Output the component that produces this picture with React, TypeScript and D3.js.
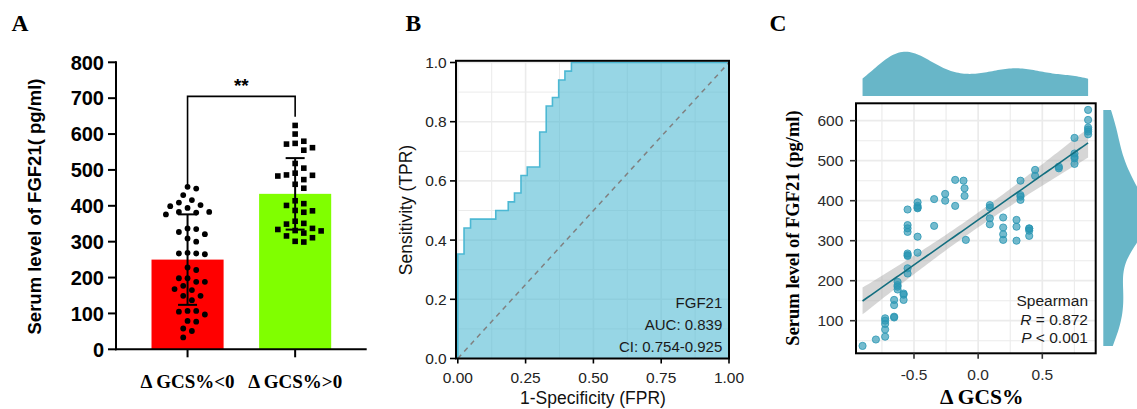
import React from 'react';
import * as d3 from 'd3';

const SANS = "'Liberation Sans', Arial, Helvetica, sans-serif";
const SERIF = "'Liberation Serif', 'Times New Roman', Times, serif";

// ---------------- Panel A data ----------------
const groupLabels = ['Δ GCS%<0', 'Δ GCS%>0'];
const fgf21Neg = [453, 448, 430, 409, 416, 402, 394, 399, 383, 376, 381, 383, 335, 337, 321, 327, 300, 309, 269, 265, 267, 267, 228, 221, 198, 198, 188, 188, 177, 165, 168, 149, 149, 137, 107, 97, 105, 107, 77, 79, 58, 51, 33];
const fgf21Pos = [624, 600, 580, 572, 555, 562, 574, 518, 505, 491, 485, 483, 486, 460, 473, 449, 414, 401, 406, 386, 382, 387, 357, 349, 351, 334, 330, 324, 331, 337, 311, 299, 301, 316];
const aTickValues = [0, 100, 200, 300, 400, 500, 600, 700, 800];
const sigText = '**';
const sigBracketTop = 705;
const sigBracketLegs = [458, 648];
const barColors = ['#FF0000', '#80FF00'];

// ---------------- Panel B data ----------------
const rocFPR = [0, 0, 0.023, 0.047, 0.14, 0.186, 0.209, 0.233, 0.256, 0.302, 0.326, 0.349, 0.372, 0.395, 0.419, 1.0];
const rocTPR = [0, 0.353, 0.441, 0.471, 0.5, 0.529, 0.559, 0.618, 0.647, 0.765, 0.853, 0.882, 0.941, 0.971, 1.0, 1.0];
const rocXTicks = [0, 0.25, 0.5, 0.75, 1];
const rocYTicks = [0, 0.2, 0.4, 0.6, 0.8, 1];
const rocLabels = ['FGF21', 'AUC: 0.839', 'CI: 0.754-0.925'];

// ---------------- Panel C data ----------------
const gcsX = [
  -0.901, -0.797,
  -0.725, -0.725, -0.725, -0.725, -0.725,
  -0.655, -0.655, -0.655, -0.655,
  -0.581, -0.581, -0.581,
  -0.628, -0.628, -0.628, -0.628,
  -0.55, -0.55, -0.55, -0.55, -0.55, -0.55, -0.55, -0.55, -0.55,
  -0.472, -0.472, -0.472, -0.472, -0.472, -0.472,
  -0.343, -0.343, -0.257, -0.257, -0.179, -0.179, -0.114, -0.106, -0.106, -0.096,
  0.091, 0.091, 0.091, 0.091,
  0.195, 0.195, 0.195, 0.195,
  0.299, 0.299, 0.299,
  0.33, 0.33, 0.33, 0.33,
  0.398, 0.398, 0.398, 0.398,
  0.444, 0.444, 0.629, 0.629,
  0.751, 0.751, 0.751, 0.751, 0.751,
  0.857, 0.857, 0.857, 0.857, 0.857, 0.857,
];
const fgfY = [
  37, 53,
  60, 78, 92, 100, 106,
  108, 110, 139, 152,
  152, 165, 168,
  178, 185, 189, 197,
  218, 231, 262, 264, 268, 322, 331, 339, 378,
  270, 310, 381, 383, 387, 396,
  337, 404, 400, 417, 387, 452, 450, 431, 412, 302,
  389, 383, 356, 341,
  358, 333, 316, 302,
  352, 335, 300,
  450, 414, 410, 402,
  331, 330, 325, 312,
  477, 462, 485, 481,
  557, 518, 510, 506, 492,
  627, 602, 583, 578, 573, 566,
];
const cXTicks = [-0.5, 0, 0.5];
const cXMinor = [-0.75, -0.25, 0.25, 0.75];
const cYTicks = [100, 200, 300, 400, 500, 600];
const cYMinor = [50, 150, 250, 350, 450, 550];
const statLines = ['Spearman', '0.872', '0.001'];
const tCrit = 1.992;

// ---------------- helpers ----------------
function swarm(values: number[], cx: number, y: (v: number) => number, step: number, minD: number) {
  const order = values.map((v, i) => i).sort((a, b) => values[b] - values[a]);
  const placed: { x: number; y: number; v: number }[] = [];
  const cands: number[] = [0];
  for (let k = 1; k < 12; k++) { cands.push(k, -k); }
  order.forEach((i) => {
    const py = y(values[i]);
    for (const k of cands) {
      const px = cx + k * step;
      const ok = placed.every((p) => Math.hypot(p.x - px, p.y - py) >= minD);
      if (ok) { placed.push({ x: px, y: py, v: values[i] }); break; }
    }
  });
  return placed;
}

function kde(data: number[], lo: number, hi: number, n: number) {
  const sd = d3.deviation(data) as number;
  const sorted = [...data].sort((a, b) => a - b);
  const iqr = (d3.quantileSorted(sorted, 0.75) as number) - (d3.quantileSorted(sorted, 0.25) as number);
  const bw = 0.9 * Math.min(sd, iqr / 1.34) * Math.pow(data.length, -0.2);
  const pts: [number, number][] = [];
  for (let i = 0; i <= n; i++) {
    const x = lo + ((hi - lo) * i) / n;
    let s = 0;
    for (const d of data) { const u = (x - d) / bw; s += Math.exp(-0.5 * u * u); }
    pts.push([x, s / (data.length * bw * Math.sqrt(2 * Math.PI))]);
  }
  return pts;
}

// ---------------- Panel A ----------------
function PanelA() {
  const y = d3.scaleLinear().domain([0, 800]).range([349.3, 62.3]);
  const x = d3.scaleBand<string>().domain(groupLabels).range([116, 366.7]).paddingInner(0.33).paddingOuter(0.33);
  const groups = [fgf21Neg, fgf21Pos];
  const bw = x.bandwidth();
  return (
    <g>
      <text x={11.5} y={30.5} fontFamily={SERIF} fontWeight="bold" fontSize={23.5}>A</text>
      {groups.map((vals, gi) => {
        const g = groupLabels[gi];
        const cx = (x(g) as number) + bw / 2;
        const m = d3.mean(vals) as number;
        const sd = d3.deviation(vals) as number;
        const pts = swarm(vals, cx, y, 4.33, 8.4);
        return (
          <g key={g}>
            <rect x={x(g)} y={y(m)} width={bw} height={y(0) - y(m)} fill={barColors[gi]} />
            <line x1={cx} x2={cx} y1={y(m - sd)} y2={y(m + sd)} stroke="#000" strokeWidth={2} />
            <line x1={cx - 9.5} x2={cx + 9.5} y1={y(m - sd)} y2={y(m - sd)} stroke="#000" strokeWidth={2} />
            <line x1={cx - 9.5} x2={cx + 9.5} y1={y(m + sd)} y2={y(m + sd)} stroke="#000" strokeWidth={2} />
            {pts.map((p, i) =>
              gi === 0 ? (
                <circle key={i} cx={p.x} cy={p.y} r={2.9} fill="#000" />
              ) : (
                <rect key={i} x={p.x - 2.8} y={p.y - 2.8} width={5.6} height={5.6} fill="#000" />
              )
            )}
            <line x1={cx} x2={cx} y1={y(0)} y2={y(0) + 8} stroke="#000" strokeWidth={2} />
            <text x={cx} y={388.3} textAnchor="middle" fontFamily={SERIF} fontWeight="bold" fontSize={19}>{g}</text>
          </g>
        );
      })}
      {/* significance bracket */}
      {(() => {
        const c0 = (x(groupLabels[0]) as number) + bw / 2;
        const c1 = (x(groupLabels[1]) as number) + bw / 2;
        return (
          <g>
            <path d={`M${c0},${y(sigBracketLegs[0])}V${y(sigBracketTop)}H${c1}V${y(sigBracketLegs[1])}`} fill="none" stroke="#000" strokeWidth={1.6} />
            <text x={(c0 + c1) / 2} y={y(sigBracketTop) - 4} textAnchor="middle" fontFamily={SANS} fontWeight="bold" fontSize={19}>{sigText}</text>
          </g>
        );
      })()}
      {/* axes */}
      <line x1={116} x2={116} y1={y(800) - 1} y2={y(0) + 1} stroke="#000" strokeWidth={2} />
      <line x1={115} x2={366.7} y1={y(0)} y2={y(0)} stroke="#000" strokeWidth={2} />
      {aTickValues.map((t) => (
        <g key={t}>
          <line x1={108} x2={116} y1={y(t)} y2={y(t)} stroke="#000" strokeWidth={2} />
          <text x={104} y={y(t)} dy="0.36em" textAnchor="end" fontFamily={SANS} fontWeight="bold" fontSize={20}>{t}</text>
        </g>
      ))}
      <text transform={`translate(40.5,${206.5}) rotate(-90)`} textAnchor="middle" fontFamily={SANS} fontWeight="bold" fontSize={18.5}>Serum level of FGF21( pg/ml)</text>
    </g>
  );
}

// ---------------- Panel B ----------------
function PanelB() {
  const x = d3.scaleLinear().domain([0, 1]).range([457.8, 729]);
  const y = d3.scaleLinear().domain([0, 1]).range([358.5, 62.5]);
  const pts: [number, number][] = rocFPR.map((f, i) => [f, rocTPR[i]]);
  const line = d3.line<[number, number]>().x((d) => x(d[0])).y((d) => y(d[1])).curve(d3.curveStepAfter);
  const area = d3.area<[number, number]>().x((d) => x(d[0])).y0(y(0)).y1((d) => y(d[1])).curve(d3.curveStepAfter);
  const left = 456, right = 729, top = 60.8, bottom = 358.5;
  const minorX = rocXTicks.slice(0, -1).map((t, i) => (t + rocXTicks[i + 1]) / 2);
  const minorY = rocYTicks.slice(0, -1).map((t, i) => (t + rocYTicks[i + 1]) / 2);
  return (
    <g>
      <text x={405.5} y={30.5} fontFamily={SERIF} fontWeight="bold" fontSize={23.5}>B</text>
      <rect x={left} y={top} width={right - left} height={bottom - top} fill="#fff" />
      {minorX.map((t) => <line key={'mx' + t} x1={x(t)} x2={x(t)} y1={top} y2={bottom} stroke="#EBEBEB" strokeWidth={1} />)}
      {minorY.map((t) => <line key={'my' + t} x1={left} x2={right} y1={y(t)} y2={y(t)} stroke="#EBEBEB" strokeWidth={1} />)}
      {rocXTicks.map((t) => <line key={'gx' + t} x1={x(t)} x2={x(t)} y1={top} y2={bottom} stroke="#EBEBEB" strokeWidth={1.6} />)}
      {rocYTicks.map((t) => <line key={'gy' + t} x1={left} x2={right} y1={y(t)} y2={y(t)} stroke="#EBEBEB" strokeWidth={1.6} />)}
      <path d={area(pts) as string} fill="#4CB8D3" fillOpacity={0.58} />
      <path d={line(pts) as string} fill="none" stroke="#4CB8D3" strokeWidth={1.6} />
      <line x1={x(0)} y1={y(0)} x2={x(1)} y2={y(1)} stroke="#808080" strokeWidth={1.5} strokeDasharray="5,4.5" />
      <rect x={left} y={top} width={right - left} height={bottom - top} fill="none" stroke="#000" strokeWidth={2} />
      {rocLabels.map((s, i) => (
        <text key={s} x={722.3} y={308 + i * 21.8} textAnchor="end" fontFamily={SANS} fontSize={15} fill="#1a1a1a">{s}</text>
      ))}
      {rocXTicks.map((t) => (
        <g key={'tx' + t}>
          <line x1={x(t)} x2={x(t)} y1={bottom} y2={bottom + 5} stroke="#000" strokeWidth={1.6} />
          <text x={x(t)} y={383.3} textAnchor="middle" fontFamily={SANS} fontSize={15.5} fill="#222">{d3.format('.2f')(t)}</text>
        </g>
      ))}
      {rocYTicks.map((t) => (
        <g key={'ty' + t}>
          <line x1={left - 6} x2={left} y1={y(t)} y2={y(t)} stroke="#000" strokeWidth={1.6} />
          <text x={446.7} y={y(t)} dy="0.36em" textAnchor="end" fontFamily={SANS} fontSize={15.5} fill="#222">{d3.format('.1f')(t)}</text>
        </g>
      ))}
      <text x={593} y={404} textAnchor="middle" fontFamily={SANS} fontSize={17.5} fill="#111">1-Specificity (FPR)</text>
      <text transform="translate(412,210) rotate(-90)" textAnchor="middle" fontFamily={SANS} fontSize={17.5} fill="#111">Sensitivity (TPR)</text>
    </g>
  );
}

// ---------------- Panel C ----------------
function PanelC() {
  const x = d3.scaleLinear().domain([-0.5, 0.5]).range([914, 1042.3]);
  const y = d3.scaleLinear().domain([100, 600]).range([320.7, 120.7]);
  const left = 856, right = 1095.7, top = 103.3, bottom = 353.3;
  const n = gcsX.length;
  const mx = d3.mean(gcsX) as number;
  const my = d3.mean(fgfY) as number;
  let sxx = 0, sxy = 0;
  gcsX.forEach((v, i) => { sxx += (v - mx) ** 2; sxy += (v - mx) * (fgfY[i] - my); });
  const b = sxy / sxx;
  const a = my - b * mx;
  let sse = 0;
  gcsX.forEach((v, i) => { sse += (fgfY[i] - (a + b * v)) ** 2; });
  const s = Math.sqrt(sse / (n - 2));
  const [xmin, xmax] = d3.extent(gcsX) as [number, number];
  const [ymin, ymax] = d3.extent(fgfY) as [number, number];
  const fitPts = d3.range(0, 81).map((i) => {
    const xv = xmin + ((xmax - xmin) * i) / 80;
    const fit = a + b * xv;
    const se = s * Math.sqrt(1 / n + (xv - mx) ** 2 / sxx);
    return { x: xv, fit, lo: fit - tCrit * se, hi: fit + tCrit * se };
  });
  const band = d3.area<any>().x((d) => x(d.x)).y0((d) => y(d.lo)).y1((d) => y(d.hi));
  const fitLine = d3.line<any>().x((d) => x(d.x)).y((d) => y(d.fit));

  const topD = kde(gcsX, xmin, xmax, 120);
  const rightD = kde(fgfY, ymin, ymax, 120);
  const topScale = d3.scaleLinear().domain([0, d3.max(topD, (d) => d[1]) as number]).range([96, 51.7]);
  const rightScale = d3.scaleLinear().domain([0, d3.max(rightD, (d) => d[1]) as number]).range([1103.3, 1147]);
  const topArea = d3.area<[number, number]>().x((d) => x(d[0])).y0(96).y1((d) => topScale(d[1]));
  const rightArea = d3.area<[number, number]>().y((d) => y(d[0])).x0(1103.3).x1((d) => rightScale(d[1]));

  return (
    <g>
      <text x={769.5} y={30.5} fontFamily={SERIF} fontWeight="bold" fontSize={23.5}>C</text>
      <path d={topArea(topD) as string} fill="#68B6C8" />
      <path d={rightArea(rightD) as string} fill="#68B6C8" />
      <rect x={left} y={top} width={right - left} height={bottom - top} fill="#fff" />
      {cXMinor.map((t) => <line key={'mx' + t} x1={x(t)} x2={x(t)} y1={top} y2={bottom} stroke="#EBEBEB" strokeWidth={1.1} />)}
      {cYMinor.map((t) => <line key={'my' + t} x1={left} x2={right} y1={y(t)} y2={y(t)} stroke="#EBEBEB" strokeWidth={1.1} />)}
      {cXTicks.map((t) => <line key={'gx' + t} x1={x(t)} x2={x(t)} y1={top} y2={bottom} stroke="#EBEBEB" strokeWidth={1.7} />)}
      {cYTicks.map((t) => <line key={'gy' + t} x1={left} x2={right} y1={y(t)} y2={y(t)} stroke="#EBEBEB" strokeWidth={1.7} />)}
      <path d={band(fitPts) as string} fill="#999999" fillOpacity={0.4} />
      {gcsX.map((v, i) => (
        <circle key={i} cx={x(v)} cy={y(fgfY[i])} r={3.6} fill="#2A96B3" fillOpacity={0.65} stroke="#2A96B3" strokeOpacity={0.8} strokeWidth={1} />
      ))}
      <path d={fitLine(fitPts) as string} fill="none" stroke="#136E7F" strokeWidth={1.6} />
      <rect x={left} y={top} width={right - left} height={bottom - top} fill="none" stroke="#000" strokeWidth={2} />
      <text x={1088} y={306} textAnchor="end" fontFamily={SANS} fontSize={15.5} fill="#1a1a1a">{statLines[0]}</text>
      <text x={1088} y={324.5} textAnchor="end" fontFamily={SANS} fontSize={15.5} fill="#1a1a1a"><tspan fontStyle="italic">R</tspan> = {statLines[1]}</text>
      <text x={1088} y={343} textAnchor="end" fontFamily={SANS} fontSize={15.5} fill="#1a1a1a"><tspan fontStyle="italic">P</tspan> &lt; {statLines[2]}</text>
      {cXTicks.map((t) => (
        <g key={'tx' + t}>
          <line x1={x(t)} x2={x(t)} y1={bottom} y2={bottom + 5.5} stroke="#333" strokeWidth={1.6} />
          <text x={x(t)} y={380} textAnchor="middle" fontFamily={SANS} fontSize={15.5} fill="#2b2b2b">{d3.format('.1f')(t).replace('−', '-')}</text>
        </g>
      ))}
      {cYTicks.map((t) => (
        <g key={'ty' + t}>
          <line x1={left - 6} x2={left} y1={y(t)} y2={y(t)} stroke="#333" strokeWidth={1.6} />
          <text x={843.3} y={y(t)} dy="0.36em" textAnchor="end" fontFamily={SANS} fontSize={15.5} fill="#2b2b2b">{t}</text>
        </g>
      ))}
      <text x={981.7} y={404} textAnchor="middle" fontFamily={SERIF} fontWeight="bold" fontSize={21.5}>Δ GCS%</text>
      <text transform="translate(799,228) rotate(-90)" textAnchor="middle" fontFamily={SERIF} fontWeight="bold" fontSize={18.5}>Serum level of FGF21 (pg/ml)</text>
    </g>
  );
}

export default function App() {
  return (
    <svg width={1137} height={409} viewBox="0 0 1137 409" style={{ position: 'absolute', left: 0, top: 0, background: '#fff' }}>
      <rect x={0} y={0} width={1137} height={409} fill="#fff" />
      <PanelA />
      <PanelB />
      <PanelC />
    </svg>
  );
}
